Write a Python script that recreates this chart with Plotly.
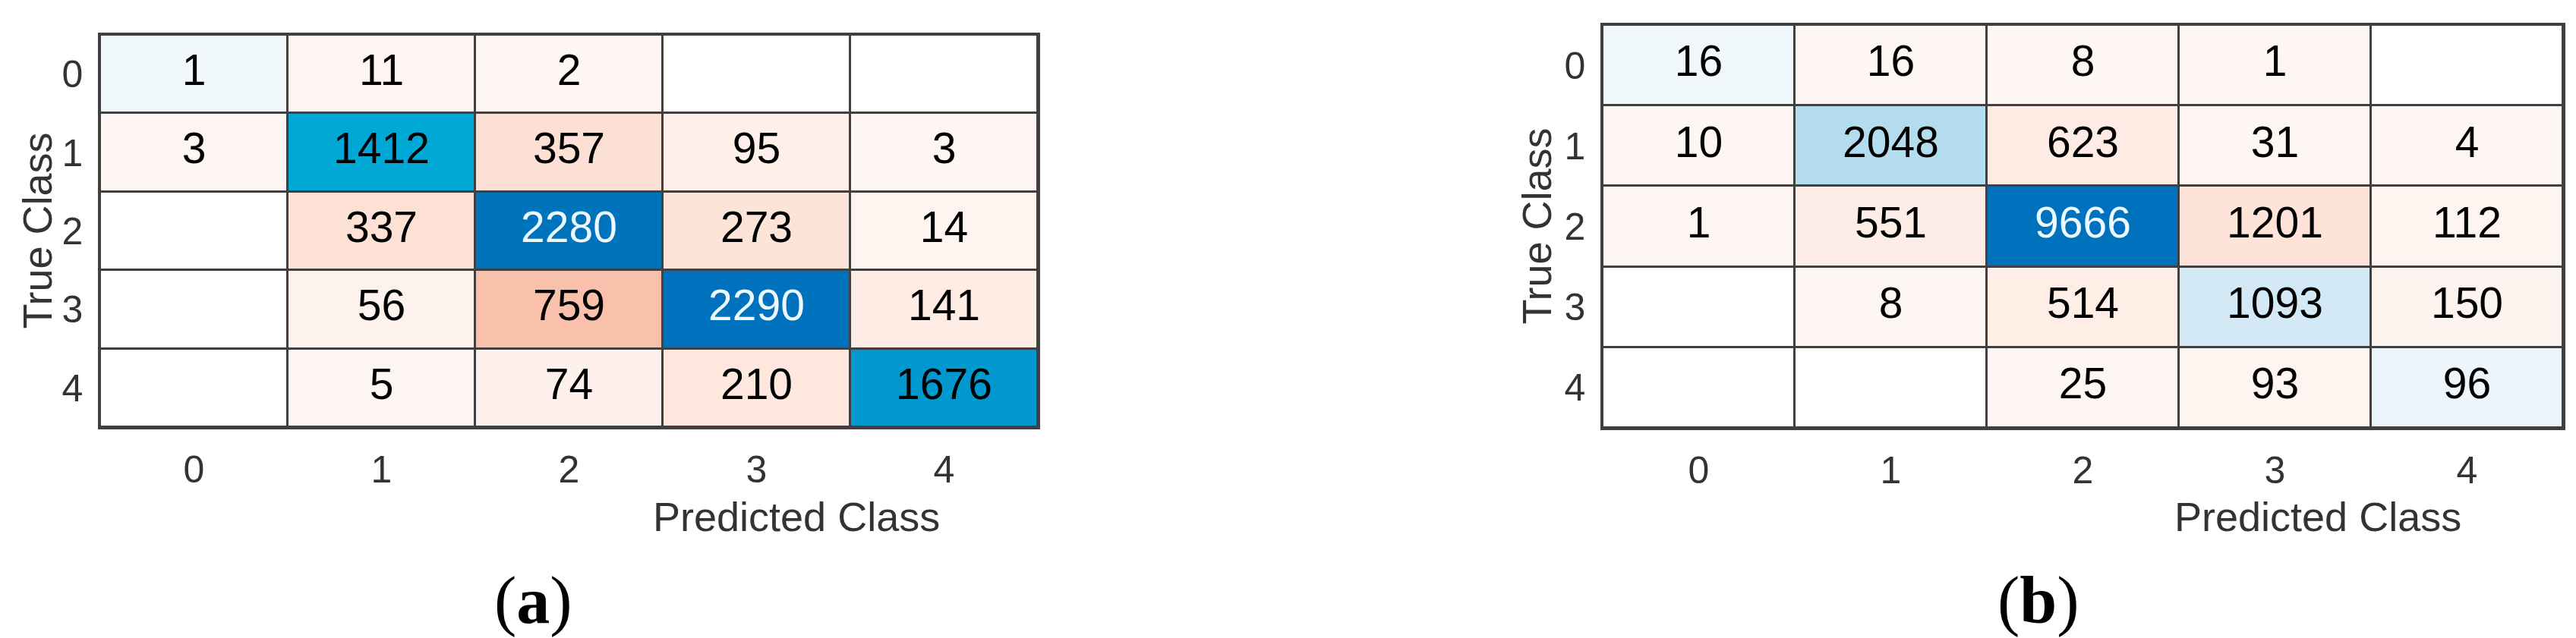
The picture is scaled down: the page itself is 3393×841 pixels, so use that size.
import plotly.graph_objects as go

# class labels and confusion counts (rows = true class, cols = predicted class)
classes = ['0', '1', '2', '3', '4']

cm_a = [
    [1, 11, 2, 0, 0],
    [3, 1412, 357, 95, 3],
    [0, 337, 2280, 273, 14],
    [0, 56, 759, 2290, 141],
    [0, 5, 74, 210, 1676],
]

cm_b = [
    [16, 16, 8, 1, 0],
    [10, 2048, 623, 31, 4],
    [1, 551, 9666, 1201, 112],
    [0, 8, 514, 1093, 150],
    [0, 0, 25, 93, 96],
]

panel_tags = ['(<b>a</b>)', '(<b>b</b>)']

W, H = 3393, 841

# matlab confusionchart-like colours
diag_scale = [
    [0.0, 'rgb(241,248,252)'],
    [0.01, 'rgb(236,245,251)'],
    [0.113, 'rgb(211,234,246)'],
    [0.212, 'rgb(179,221,239)'],
    [0.62, 'rgb(0,168,214)'],
    [0.73, 'rgb(0,152,206)'],
    [1.0, 'rgb(0,114,189)'],
]
off_scale = [
    [0.0, 'rgb(254,246,243)'],
    [0.02, 'rgb(254,243,238)'],
    [0.064, 'rgb(254,236,228)'],
    [0.124, 'rgb(253,227,216)'],
    [0.156, 'rgb(253,224,212)'],
    [0.33, 'rgb(249,193,172)'],
    [1.0, 'rgb(217,83,25)'],
]

# pixel boxes of the two plot areas: left, top, right, bottom
boxes = [(124, 38, 1359, 555), (2103, 25, 3368, 556)]


def px(x):
    return x / W


def py(y):
    return 1 - y / H


def add_panel(fig, cm, idx):
    xa = 'x' if idx == 0 else 'x2'
    ya = 'y' if idx == 0 else 'y2'
    zmax = max(max(r) for r in cm)
    n = len(classes)

    bg = [[0] * n for _ in range(n)]
    diag = [[cm[i][j] if (i == j and cm[i][j] > 0) else None for j in range(n)] for i in range(n)]
    off = [[cm[i][j] if (i != j and cm[i][j] > 0) else None for j in range(n)] for i in range(n)]

    common = dict(x=classes, y=classes, xaxis=xa, yaxis=ya, xgap=3, ygap=3,
                  showscale=False, hoverinfo='skip')
    fig.add_trace(go.Heatmap(z=bg, colorscale=[[0, 'white'], [1, 'white']], zmin=0, zmax=1, **common))
    fig.add_trace(go.Heatmap(z=diag, colorscale=diag_scale, zmin=0, zmax=zmax, **common))
    fig.add_trace(go.Heatmap(z=off, colorscale=off_scale, zmin=0, zmax=zmax, **common))

    tx, ty, tt, tc = [], [], [], []
    for i in range(n):
        for j in range(n):
            if cm[i][j] > 0:
                tx.append(classes[j])
                ty.append(classes[i])
                tt.append(str(cm[i][j]))
                tc.append('#eef8ff' if (i == j and cm[i][j] / zmax > 0.9) else 'black')
    fig.add_trace(go.Scatter(x=tx, y=ty, text=tt, mode='text', xaxis=xa, yaxis=ya,
                             textfont=dict(size=57, color=tc, family='Liberation Sans, Arial'),
                             hoverinfo='skip', showlegend=False))


fig = go.Figure()
add_panel(fig, cm_a, 0)
add_panel(fig, cm_b, 1)

axis_common = dict(
    type='category', showline=True, mirror=True, linecolor='#404040', linewidth=2.5,
    showgrid=False, zeroline=False, ticks='',
    tickfont=dict(size=50, color='#333333', family='Liberation Sans, Arial'),
)

lay = dict(
    width=W, height=H, margin=dict(l=0, r=0, t=0, b=0),
    paper_bgcolor='white', plot_bgcolor='#404040', showlegend=False,
)
for k, (l, t, r, b) in enumerate(boxes):
    sx = '' if k == 0 else '2'
    lay['xaxis' + sx] = dict(axis_common, domain=[px(l), px(r)], range=[-0.5, 4.5],
                             anchor='y' + sx, ticklabelstandoff=10)
    lay['yaxis' + sx] = dict(axis_common, domain=[py(b), py(t)], range=[4.5, -0.5],
                             anchor='x' + sx, ticklabelstandoff=10)
fig.update_layout(**lay)

label_font = dict(size=54, color='#333333', family='Liberation Sans, Arial')
annots = []
# x titles (shifted right like the source figure)
for cx in (1041, 3045):
    annots.append(dict(text='Predicted Class', x=px(cx), y=py(673), xref='paper', yref='paper',
                       xanchor='center', yanchor='middle', showarrow=False, font=label_font))
# y titles
for (l, t, r, b), off in zip(boxes, (84, 88)):
    annots.append(dict(text='True Class', x=px(l - off), y=py((t + b) / 2), xref='paper', yref='paper',
                       xanchor='center', yanchor='middle', textangle=-90, showarrow=False,
                       font=label_font))
# panel tags
for tag, cx in zip(panel_tags, (694, 2677)):
    annots.append(dict(text=tag, x=px(cx), y=py(783), xref='paper', yref='paper',
                       xanchor='center', yanchor='middle', showarrow=False,
                       font=dict(size=88, color='black', family='Liberation Serif, Times New Roman')))
fig.update_layout(annotations=annots)

fig.write_html('out.html')
